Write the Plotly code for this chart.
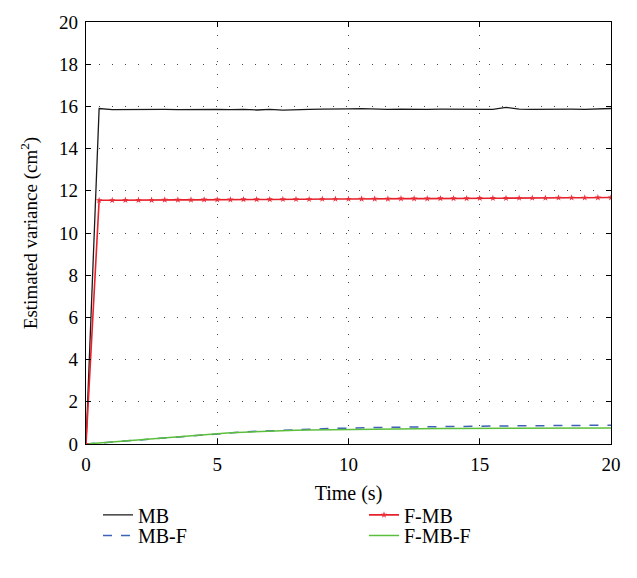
import plotly.graph_objects as go

time_s = [i * 0.5 for i in range(41)]

mb = [0, 15.9, 15.85, 15.86, 15.84, 15.87, 15.86, 15.85, 15.86, 15.87, 15.86,
      15.85, 15.86, 15.83, 15.86, 15.82, 15.85, 15.86, 15.87, 15.86, 15.88,
      15.89, 15.87, 15.86, 15.87, 15.85, 15.86, 15.87, 15.86, 15.86, 15.85,
      15.86, 15.95, 15.87, 15.86, 15.87, 15.86, 15.87, 15.86, 15.87, 15.9]

f_mb = [0, 11.55, 11.55, 11.56, 11.56, 11.56, 11.57, 11.57, 11.57, 11.58, 11.58,
        11.58, 11.59, 11.59, 11.59, 11.6, 11.6, 11.6, 11.61, 11.61, 11.61,
        11.62, 11.62, 11.62, 11.63, 11.63, 11.63, 11.64, 11.64, 11.64, 11.65,
        11.65, 11.65, 11.66, 11.66, 11.66, 11.67, 11.67, 11.67, 11.68, 11.68]

mb_f = [0, 0.05, 0.10, 0.14, 0.19, 0.23, 0.28, 0.32, 0.37, 0.42, 0.50,
        0.54, 0.57, 0.60, 0.63, 0.66, 0.68, 0.70, 0.72, 0.74, 0.76,
        0.77, 0.78, 0.79, 0.80, 0.81, 0.82, 0.82, 0.83, 0.84, 0.85,
        0.85, 0.86, 0.86, 0.87, 0.87, 0.88, 0.88, 0.88, 0.89, 0.89]

f_mb_f = [0, 0.05, 0.10, 0.14, 0.19, 0.23, 0.28, 0.32, 0.37, 0.42, 0.50,
          0.53, 0.56, 0.59, 0.61, 0.63, 0.65, 0.66, 0.67, 0.68, 0.70,
          0.71, 0.71, 0.72, 0.72, 0.73, 0.73, 0.74, 0.74, 0.74, 0.75,
          0.75, 0.75, 0.75, 0.75, 0.76, 0.76, 0.76, 0.76, 0.76, 0.76]

x_ticks = [0, 5, 10, 15, 20]
y_ticks = [0, 2, 4, 6, 8, 10, 12, 14, 16, 18, 20]

font = "Liberation Serif, Times New Roman, serif"

fig = go.Figure()
fig.add_trace(go.Scatter(x=time_s, y=mb, mode="lines", name="MB",
                         line=dict(color="#1a1a1a", width=1.3), legend="legend"))
fig.add_trace(go.Scatter(x=time_s, y=mb_f, mode="lines", name="MB-F",
                         line=dict(color="#3d62b8", width=1.5, dash="dash"), legend="legend3"))
fig.add_trace(go.Scatter(x=time_s, y=f_mb_f, mode="lines", name="F-MB-F",
                         line=dict(color="#5cbf3c", width=1.5), legend="legend4"))
fig.add_trace(go.Scatter(x=time_s, y=f_mb, mode="lines+markers", name="F-MB",
                         line=dict(color="#e8202a", width=1.6),
                         marker=dict(symbol="star", size=5, color="#e8303a"),
                         legend="legend2"))

axis_common = dict(showline=True, linecolor="black", linewidth=1.2, mirror="ticks",
                   ticks="inside", ticklen=5, tickcolor="black",
                   showgrid=True, gridcolor="#444", griddash="1px,12px", gridwidth=1.3,
                   zeroline=False, ticklabelstandoff=3,
                   tickfont=dict(family=font, size=19, color="black"))

fig.update_xaxes(range=[0, 20], tickvals=x_ticks,
                 title=dict(text="Time (s)", font=dict(family=font, size=20, color="black"), standoff=12),
                 **axis_common)
fig.update_yaxes(range=[0, 20], tickvals=y_ticks,
                 title=dict(text="Estimated variance (cm<sup>2</sup>)", font=dict(family=font, size=19, color="black"), standoff=16),
                 **axis_common)

legend_common = dict(orientation="v", yanchor="middle", xanchor="left",
                     font=dict(family=font, size=20, color="black"),
                     bgcolor="rgba(0,0,0,0)", tracegroupgap=0, itemwidth=30)

row1 = -(516 - 444) / 429
row2 = -(537 - 444) / 429
col1 = (98 - 86) / 525
col2 = (364 - 86) / 525

fig.update_layout(
    width=637, height=578,
    margin=dict(l=86, r=26, t=15, b=134),
    paper_bgcolor="white", plot_bgcolor="white",
    showlegend=True,
    legend=dict(x=col1, y=row1, **legend_common),
    legend2=dict(x=col2, y=row1, **legend_common),
    legend3=dict(x=col1, y=row2, **legend_common),
    legend4=dict(x=col2, y=row2, **legend_common),
)

fig.write_html("out.html")
